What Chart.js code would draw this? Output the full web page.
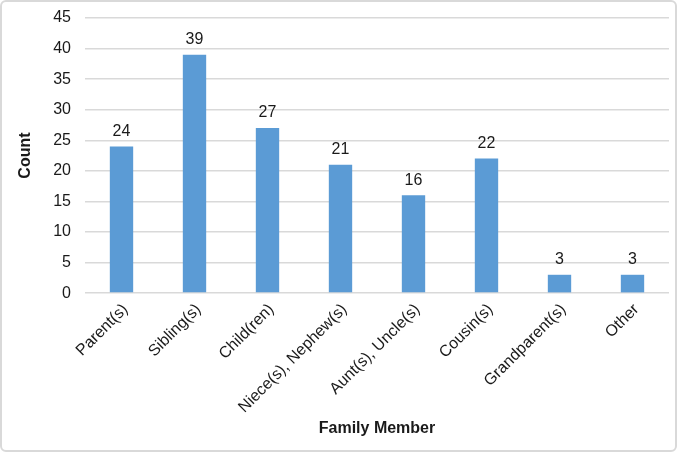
<!DOCTYPE html>
<html>
<head>
<meta charset="utf-8">
<script src="https://cdn.jsdelivr.net/npm/chart.js@4.4.0/dist/chart.umd.min.js"></script>
<style>
  html, body { margin: 0; padding: 0; background: #fff; }
  #wrap { width: 677px; height: 452px; box-sizing: border-box; border: 2px solid #d9d9d9; border-radius: 6px; position: relative; }
  canvas { display: block; }
</style>
</head>
<body>
<div id="wrap"><canvas id="c"></canvas></div>
<script>
const categories = ["Parent(s)", "Sibling(s)", "Child(ren)", "Niece(s), Nephew(s)", "Aunt(s), Uncle(s)", "Cousin(s)", "Grandparent(s)", "Other"];
const counts = [24, 39, 27, 21, 16, 22, 3, 3];
const yTicks = [0, 5, 10, 15, 20, 25, 30, 35, 40, 45];

const FONT = "'Liberation Sans', Arial, sans-serif";

const valueLabels = {
  id: 'valueLabels',
  afterDatasetsDraw(chart) {
    const ctx = chart.ctx;
    const meta = chart.getDatasetMeta(0);
    ctx.save();
    ctx.font = "16px " + FONT;
    ctx.fillStyle = "#1a1a1a";
    ctx.textAlign = "center";
    ctx.textBaseline = "bottom";
    meta.data.forEach((bar, i) => {
      ctx.fillText(String(counts[i]), bar.x, bar.y - 7);
    });
    ctx.restore();
  }
};

new Chart(document.getElementById('c'), {
  type: 'bar',
  data: {
    labels: categories,
    datasets: [{
      data: counts,
      backgroundColor: '#5B9BD5',
      borderWidth: 0,
      barPercentage: 0.64,
      categoryPercentage: 0.5
    }]
  },
  options: {
    responsive: true,
    maintainAspectRatio: false,
    animation: false,
    devicePixelRatio: 1,
    layout: { padding: { left: 14, right: 6, top: 16, bottom: 12 } },
    plugins: { legend: { display: false }, tooltip: { enabled: false } },
    scales: {
      x: {
        grid: { display: false, drawTicks: false },
        border: { display: false },
        ticks: {
          color: '#1a1a1a',
          font: { family: FONT, size: 16 },
          maxRotation: 45, minRotation: 45,
          autoSkip: false,
          padding: 7,
          labelOffset: 4
        },
        title: {
          display: true, text: 'Family Member', color: '#1a1a1a',
          font: { family: FONT, size: 16, weight: 'bold' },
          padding: { top: -5, bottom: 0 }
        }
      },
      y: {
        min: 0, max: 45,
        afterBuildTicks(axis) { axis.ticks = yTicks.map(v => ({ value: v })); },
        afterFit(axis) { axis.paddingTop = 0; axis.paddingBottom = 0; },
        grid: { color: '#d9d9d9', lineWidth: 1.5, drawTicks: false },
        border: { display: false },
        ticks: {
          color: '#1a1a1a',
          font: { family: FONT, size: 16 },
          padding: 14
        },
        title: {
          display: true, text: 'Count', color: '#1a1a1a',
          font: { family: FONT, size: 16, weight: 'bold' },
          padding: { top: 0, bottom: 4 }
        }
      }
    }
  },
  plugins: [valueLabels]
});
</script>
</body>
</html>
